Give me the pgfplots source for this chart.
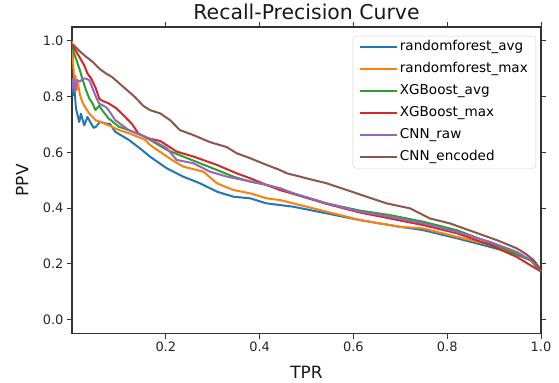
\documentclass[border=0pt]{standalone}
\usepackage{fontspec}
\setmainfont{DejaVu Sans}
\usepackage{pgfplots}
\pgfplotsset{compat=1.18}
\definecolor{cA}{HTML}{1F77B4}
\definecolor{cB}{HTML}{FF7F0E}
\definecolor{cC}{HTML}{2CA02C}
\definecolor{cD}{HTML}{D62728}
\definecolor{cE}{HTML}{9467BD}
\definecolor{cF}{HTML}{8C564B}
\begin{document}
\begin{tikzpicture}
\begin{axis}[name=ax, scale only axis, width=469bp, height=306.5bp,
  xmin=0, xmax=1, ymin=-0.05, ymax=1.05,
  xtick={0.2,0.4,0.6,0.8,1.0}, xticklabels={0.2,0.4,0.6,0.8,1.0},
  ytick={0,0.2,0.4,0.6,0.8,1.0}, yticklabels={0.0,0.2,0.4,0.6,0.8,1.0},
  /pgf/number format/assume math mode=true,
  tick align=outside, major tick length=5bp,
  tick style={black!80, line width=1bp},
  axis line style={black!80, line width=1.1bp},
  ticklabel style={font=\fontsize{13}{15}\selectfont, text=black!85},
  every axis title shift=0pt,
  title={Recall-Precision Curve},
  title style={at={(axis description cs:0.5,1.023)}, anchor=base, font=\fontsize{20.5}{24}\selectfont, text=black!90},
  xlabel={TPR}, ylabel={PPV},
  xlabel style={at={(axis description cs:0.5,-0.147)}, anchor=base, font=\fontsize{17}{20}\selectfont, text=black!90},
  ylabel style={at={(axis description cs:-0.093,0.5)}, anchor=base, font=\fontsize{17}{20}\selectfont, text=black!90},
  legend cell align=left,
  legend style={at={(axis description cs:1,1)}, anchor=north east, xshift=-5bp, yshift=-9bp,
    draw=black!20, rounded corners=3bp, fill=white, fill opacity=0.8, text opacity=1,
    font=\fontsize{13.6}{16}\selectfont, inner xsep=6bp, inner ysep=2.5bp, row sep=5bp,
    nodes={inner sep=2bp, text height=10bp, text depth=3bp, anchor=west}},
  legend image code/.code={\draw[#1, line width=2bp] (0bp,0bp) -- (29bp,0bp); \path (0bp,0bp) -- (37bp,0bp);},
  every axis plot/.append style={line width=2bp, line join=round, no marks},
]
\addplot[cA] coordinates {
(0.001,0.867) (0.003,0.806) (0.005,0.831) (0.0085,0.757) (0.012,0.733) (0.0156,0.709) (0.019,0.739) (0.026,0.697) (0.033,0.727) (0.041,0.703) (0.046,0.688) (0.051,0.692) (0.060,0.710) (0.071,0.704) (0.081,0.702) (0.092,0.674) (0.121,0.645) (0.149,0.609) (0.166,0.585) (0.202,0.543) (0.237,0.513) (0.273,0.489) (0.309,0.459) (0.344,0.441) (0.380,0.435) (0.415,0.417) (0.443,0.411) (0.472,0.405) (0.543,0.381) (0.614,0.357) (0.699,0.333) (0.749,0.321) (0.820,0.292) (0.891,0.261) (0.941,0.238) (0.984,0.208) (1.0,0.172)
};
\addlegendentry{randomforest\_avg}
\addplot[cB] coordinates {
(0.0,1.0) (0.0017,0.950) (0.003,0.903) (0.005,0.853) (0.0075,0.874) (0.0096,0.824) (0.0128,0.846) (0.017,0.806) (0.023,0.777) (0.030,0.757) (0.037,0.739) (0.043,0.728) (0.051,0.715) (0.064,0.707) (0.085,0.692) (0.100,0.680) (0.121,0.669) (0.156,0.645) (0.166,0.627) (0.192,0.597) (0.213,0.573) (0.237,0.549) (0.280,0.531) (0.309,0.489) (0.344,0.465) (0.380,0.453) (0.415,0.435) (0.443,0.429) (0.472,0.417) (0.543,0.387) (0.614,0.357) (0.699,0.333) (0.749,0.327) (0.820,0.297) (0.891,0.268) (0.948,0.238) (0.984,0.208) (1.0,0.172)
};
\addlegendentry{randomforest\_max}
\addplot[cC] coordinates {
(0.0,0.978) (0.0085,0.936) (0.0156,0.901) (0.023,0.859) (0.030,0.823) (0.037,0.793) (0.044,0.775) (0.050,0.752) (0.058,0.767) (0.064,0.752) (0.078,0.722) (0.100,0.692) (0.121,0.680) (0.156,0.656) (0.166,0.645) (0.202,0.609) (0.237,0.585) (0.273,0.561) (0.309,0.537) (0.344,0.513) (0.380,0.495) (0.415,0.483) (0.443,0.471) (0.472,0.453) (0.543,0.417) (0.614,0.391) (0.678,0.375) (0.749,0.351) (0.820,0.321) (0.877,0.285) (0.927,0.250) (0.977,0.214) (1.0,0.172)
};
\addlegendentry{XGBoost\_avg}
\addplot[cD] coordinates {
(0.0,0.986) (0.0156,0.943) (0.026,0.913) (0.033,0.883) (0.041,0.865) (0.051,0.829) (0.058,0.793) (0.065,0.785) (0.078,0.776) (0.094,0.759) (0.107,0.738) (0.128,0.702) (0.141,0.669) (0.159,0.652) (0.188,0.641) (0.223,0.603) (0.259,0.585) (0.309,0.555) (0.351,0.525) (0.380,0.507) (0.415,0.483) (0.443,0.465) (0.472,0.451) (0.543,0.415) (0.614,0.384) (0.678,0.363) (0.749,0.339) (0.820,0.310) (0.891,0.268) (0.948,0.225) (1.0,0.172)
};
\addlegendentry{XGBoost\_max}
\addplot[cE] coordinates {
(0.0,0.824) (0.003,0.867) (0.0064,0.817) (0.0107,0.860) (0.0156,0.853) (0.023,0.864) (0.030,0.865) (0.037,0.859) (0.044,0.829) (0.051,0.799) (0.058,0.775) (0.072,0.763) (0.078,0.752) (0.092,0.716) (0.121,0.680) (0.164,0.651) (0.202,0.615) (0.223,0.573) (0.259,0.561) (0.294,0.531) (0.330,0.513) (0.365,0.501) (0.401,0.489) (0.443,0.471) (0.472,0.453) (0.543,0.417) (0.614,0.387) (0.678,0.369) (0.749,0.345) (0.820,0.315) (0.891,0.279) (0.948,0.243) (0.984,0.208) (1.0,0.172)
};
\addlegendentry{CNN\_raw}
\addplot[cF] coordinates {
(0.001,0.989) (0.0156,0.964) (0.030,0.943) (0.044,0.925) (0.058,0.901) (0.0725,0.883) (0.085,0.871) (0.117,0.824) (0.134,0.799) (0.152,0.767) (0.166,0.752) (0.188,0.740) (0.209,0.716) (0.230,0.680) (0.259,0.662) (0.294,0.637) (0.330,0.619) (0.351,0.597) (0.380,0.579) (0.415,0.555) (0.443,0.537) (0.458,0.525) (0.500,0.507) (0.543,0.489) (0.586,0.465) (0.628,0.441) (0.671,0.417) (0.721,0.399) (0.763,0.363) (0.806,0.345) (0.856,0.315) (0.906,0.285) (0.948,0.256) (0.968,0.235) (0.984,0.214) (0.994,0.192) (1.0,0.172)
};
\addlegendentry{CNN\_encoded}
\end{axis}
\pgfresetboundingbox
\path ([shift={(-72bp,-49bp)}]ax.south west) rectangle ([shift={(18bp,27bp)}]ax.north east);
\end{tikzpicture}
\end{document}
